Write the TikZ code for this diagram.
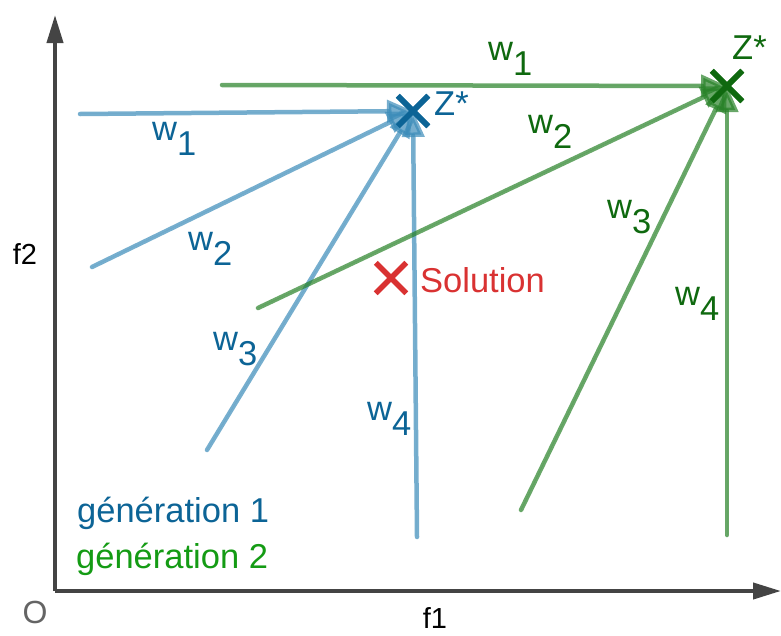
\documentclass[tikz,border=0pt]{standalone}
\usepackage{fontspec}
\setmainfont{Liberation Sans}
\usetikzlibrary{arrows.meta,shapes.misc}
\definecolor{bluel}{RGB}{60,140,185}
\definecolor{greenl}{RGB}{40,130,40}
\definecolor{bluet}{RGB}{12,100,150}
\definecolor{greent}{RGB}{15,105,15}
\definecolor{greenleg}{RGB}{20,155,20}
\definecolor{redc}{RGB}{217,50,50}
\definecolor{axisc}{RGB}{68,68,68}
\definecolor{grayt}{RGB}{100,100,100}
\begin{document}
\begin{tikzpicture}[x=1pt,y=-1pt,
  txt/.style={font=\fontsize{34.5}{40}\selectfont, inner sep=0pt, anchor=base west},
  axtxt/.style={font=\fontsize{29}{34}\selectfont, inner sep=0pt},
  vec/.style={line width=4.5pt, line cap=round, opacity=0.7,
    -{Triangle[length=26pt,width=22pt]}},
  vecb/.style={vec, draw=bluel, fill=bluel},
  vecg/.style={vec, draw=greenl, fill=greenl},
  axisline/.style={line width=4pt, draw=axisc, -{Triangle[length=28pt,width=16pt]}},
  crossmark/.style={cross out, draw, line width=5.5pt, minimum size=25pt, inner sep=0pt},
  wlab/.style={txt}]
\useasboundingbox (0,0) rectangle (781,635);
% axes
\coordinate (orig) at (55,591);
\coordinate (ytip) at (55,15);
\coordinate (xtip) at (781,591);
\draw[axisline] (orig) -- (ytip);
\draw[axisline] (orig) -- (xtip);
\node[axtxt, text=grayt, font=\fontsize{32}{36}\selectfont] (O) at (35,612) {O};
\node[axtxt] (f1) at (435,618) {f1};
\node[axtxt] (f2) at (25,254) {f2};

% optimum points
\node[crossmark, draw=bluet] (Z1) at (413,111) {};
\node[crossmark, draw=greent] (Z2) at (727,86) {};
\node[crossmark, draw=redc] (S) at (391,278) {};
\node[txt, text=bluet] (Z1l) at (434,115) {Z*};
\node[txt, text=greent] (Z2l) at (732,59) {Z*};
\node[txt, text=redc] (Sl) at (420,292) {Solution};

% generation 1 vectors
\coordinate (b1) at (80,114);
\coordinate (b2) at (92,267);
\coordinate (b3) at (207,450);
\coordinate (b4) at (417,537);
\draw[vecb] (b1) -- (Z1.center);
\draw[vecb] (b2) -- (Z1.center);
\draw[vecb] (b3) -- (Z1.center);
\draw[vecb] (b4) -- (Z1.center);

% generation 2 vectors
\coordinate (g1) at (222,85);
\coordinate (g2) at (258,308);
\coordinate (g3) at (521,510);
\coordinate (g4) at (727,535);
\draw[vecg] (g1) -- (Z2.center);
\draw[vecg] (g2) -- (Z2.center);
\draw[vecg] (g3) -- (Z2.center);
\draw[vecg] (g4) -- (Z2.center);

% redraw crosses on top
\node[crossmark, draw=bluet] at (Z1) {};
\node[crossmark, draw=greent] at (Z2) {};

% labels generation 1
\node[wlab, text=bluet] (lb1) at (152,140) {w\raisebox{-15pt}{1}};
\node[wlab, text=bluet] (lb2) at (188,250) {w\raisebox{-15pt}{2}};
\node[wlab, text=bluet] (lb3) at (213,350) {w\raisebox{-15pt}{3}};
\node[wlab, text=bluet] (lb4) at (367,420) {w\raisebox{-15pt}{4}};
% labels generation 2
\node[wlab, text=greent] (lg1) at (488,60) {w\raisebox{-15pt}{1}};
\node[wlab, text=greent] (lg2) at (528,133) {w\raisebox{-15pt}{2}};
\node[wlab, text=greent] (lg3) at (607,218) {w\raisebox{-15pt}{3}};
\node[wlab, text=greent] (lg4) at (675,305) {w\raisebox{-15pt}{4}};

% legend
\node[txt, text=bluet] (leg1) at (77,522) {génération 1};
\node[txt, text=greenleg] (leg2) at (76,568) {génération 2};
\end{tikzpicture}
\end{document}
